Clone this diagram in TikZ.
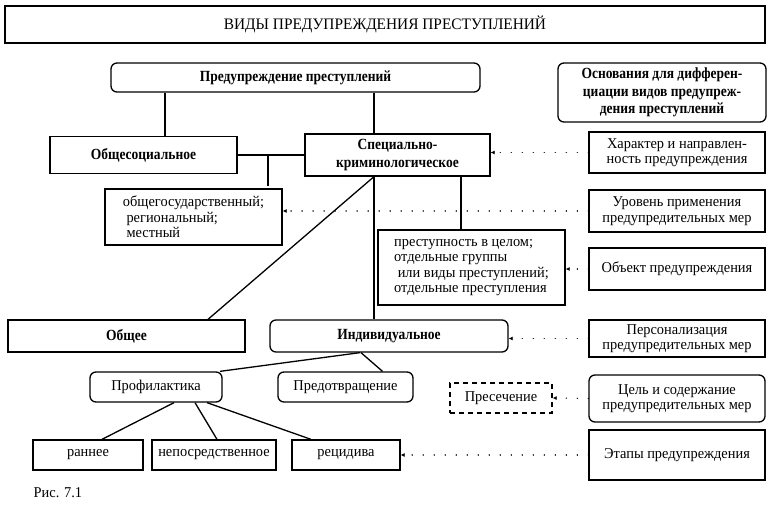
\documentclass[tikz,border=0pt]{standalone}
\usepackage{fontspec}
\setmainfont{Liberation Serif}[FakeStretch=0.96]
\newfontfamily\headfont{Liberation Serif}[FakeStretch=0.87]
\usetikzlibrary{arrows.meta}

\begin{document}
\begin{tikzpicture}[
		x=1pt,
		y=-1pt,
		every node/.style={
				draw,
				line width=1.3pt,
				align=center,
				inner sep=2pt,
				font=\fontsize{15}{15.5}\selectfont
			},
		size/.style 2 args={
				minimum width=#1pt,
				minimum height=#2pt
			},
		round/.style={
				rounded corners=6pt
			},
		head/.style={
				font=\fontsize{15.5}{17.5}\headfont\bfseries
			},
		link/.style={
				line width=1.3pt
			},
		hint/.style={
				line width=1.4pt,
				line cap=round,
				dash pattern=on 0.01pt off 11pt,
				-{Latex[length=4pt,width=4pt]}
			}
	]
	\useasboundingbox (0,0) rectangle (770,508);

	% header
	\node[size={760}{37}, font=\fontsize{16}{18}\selectfont] (title) at (385,24.5) {ВИДЫ ПРЕДУПРЕЖДЕНИЯ ПРЕСТУПЛЕНИЙ};

	% tree
	\node[size={369}{29}, round, head] (prev) at (295.5,77.5) {Предупреждение преступлений};
	\node[size={187}{37}, head] (obsch) at (143.5,155) {Общесоциальное};
	\node[size={185}{42}, head] (spec) at (397.5,155) {Специально-\\криминологическое};
	\node[size={177}{56}, align=left] (levels) at (193.5,217) {общегосударственный;\\\ региональный;\\\ местный};
	\node[size={187}{75}, align=left] (objects) at (471.5,267.5) {преступность в целом;\\отдельные группы\\\ или виды преступлений;\\отдельные преступления};
	\node[size={237}{32}, head] (general) at (126.5,336) {Общее};
	\node[size={238}{32}, round, head] (indiv) at (389,336) {Индивидуальное};
	\node[size={132}{30}, round] (prof) at (156,387) {Профилактика};
	\node[size={135}{30}, round] (prevent) at (345.5,387) {Предотвращение};
	\node[size={102}{30}, dash pattern=on 5pt off 4pt] (stop) at (501,398) {Пресечение};
	\node[size={110}{30}] (early) at (88,455) {раннее};
	\node[size={124}{30}] (direct) at (214,455) {непосредственное};
	\node[size={108}{30}] (relapse) at (346,455) {рецидива};

	% grounds
	\node[size={208}{59}, round, head] (grounds) at (662,92.5) {Основания для дифферен-\\циации видов предупреж-\\дения преступлений};
	\node[size={176}{41}] (nature) at (677,152.5) {Характер и направлен-\\ность предупреждения};
	\node[size={176}{42}] (level) at (677,211) {Уровень применения\\предупредительных мер};
	\node[size={176}{42}] (object) at (677,269) {Объект предупреждения};
	\node[size={176}{37}] (person) at (677,338.5) {Персонализация\\предупредительных мер};
	\node[size={176}{47}, round] (goal) at (677,398.5) {Цель и содержание\\предупредительных мер};
	\node[size={176}{50}] (stages) at (677,455) {Этапы предупреждения};

	\node[draw=none, anchor=west, inner sep=0pt] (caption) at (33,493) {Рис. 7.1};

	\coordinate (tick) at (268,186);
	\coordinate (fork) at ([xshift=-23.5pt]spec.south);

	% connectors
	\draw[link] ([xshift=21.5pt]obsch.north) -- ([xshift=21.5pt]obsch.north |- prev.south);
	\draw[link] ([xshift=-23.5pt]spec.north) -- ([xshift=-23.5pt]spec.north |- prev.south);
	\draw[link] (obsch.east) -- (spec.west);
	\draw[link] (tick |- obsch.east) -- (tick);
	\draw[link] (fork) -- (fork |- indiv.north);
	\draw[link] (fork) -- ([xshift=81.5pt]general.north);
	\draw[link] ([xshift=63.5pt]spec.south) -- ([xshift=63.5pt]spec.south |- objects.north);
	\draw[link] ([xshift=-29pt]indiv.south) -- ([xshift=64pt]prof.north);
	\draw[link] ([xshift=-28pt]indiv.south) -- ([xshift=37pt]prevent.north);
	\draw[link] ([xshift=18pt]prof.south) -- ([xshift=14pt]early.north);
	\draw[link] ([xshift=39pt]prof.south) -- ([xshift=3pt]direct.north);
	\draw[link] ([xshift=51pt]prof.south) -- ([xshift=-35pt]relapse.north);

	% dotted hints
	\draw[hint] (nature.west) -- (spec.east |- nature.west);
	\draw[hint] (level.west) -- (levels.east |- level.west);
	\draw[hint] (object.west) -- (objects.east |- object.west);
	\draw[hint] (person.west) -- (indiv.east |- person.west);
	\draw[hint] (goal.west) -- (stop.east);
	\draw[hint] (stages.west) -- (relapse.east);
\end{tikzpicture}
\end{document}
